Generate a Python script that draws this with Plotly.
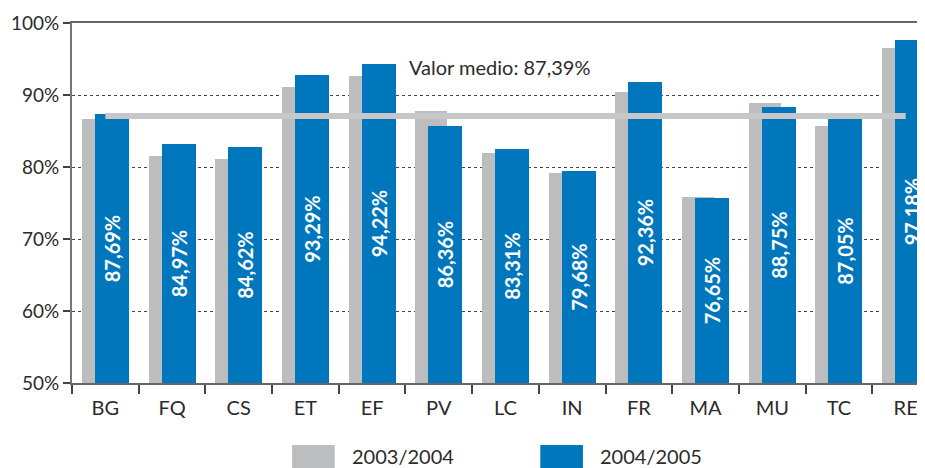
import plotly.graph_objects as go

categories = ["BG", "FQ", "CS", "ET", "EF", "PV", "LC", "IN", "FR", "MA", "MU", "TC", "RE"]
values_2003_2004 = [86.7, 81.5, 81.1, 91.1, 92.65, 87.8, 82.0, 79.2, 90.4, 75.8, 88.9, 85.7, 96.55]
values_2004_2005 = [87.4, 83.2, 82.8, 92.75, 94.3, 85.7, 82.5, 79.4, 91.8, 75.7, 88.3, 86.7, 97.7]
labels_2004_2005 = ["87,69%", "84,97%", "84,62%", "93,29%", "94,22%", "86,36%", "83,31%",
                    "79,68%", "92,36%", "76,65%", "88,75%", "87,05%", "97,18%"]
series_names = ["2003/2004", "2004/2005"]
mean_level = 87.1
mean_label = "Valor medio: 87,39%"
axis_base = 50
y_tick_values = [50, 60, 70, 80, 90, 100]
y_tick_labels = ["50%", "60%", "70%", "80%", "90%", "100%"]

GRAY = "#bcbdbf"
BLUE = "#0077bd"
LINE_GRAY = "#c6c7c9"
TEXT = "#2b2b2b"
FONT = "Lato"

# page has an 8px body margin; compensate so the chart lands on the 925x468 window
W, H, PAD = 925, 468, 8

fig = go.Figure()
fig.add_trace(go.Bar(
    x=categories, y=[v - axis_base for v in values_2003_2004], base=axis_base,
    name=series_names[0],
    marker=dict(color=GRAY, line=dict(width=0)),
    offset=-0.353, width=0.48, showlegend=False,
))
fig.add_trace(go.Bar(
    x=categories, y=[v - axis_base for v in values_2004_2005], base=axis_base,
    name=series_names[1],
    marker=dict(color=BLUE, line=dict(width=0)),
    offset=-0.158, width=0.51, showlegend=False,
    text=labels_2004_2005, textposition="inside", insidetextanchor="middle",
    textangle=-90, constraintext="none",
    textfont=dict(family=FONT, size=20, color="white", weight="bold"),
))
fig.add_trace(go.Scatter(
    x=[categories[0], categories[-1]], y=[mean_level, mean_level],
    mode="lines", line=dict(color=LINE_GRAY, width=6), showlegend=False,
    hoverinfo="skip",
))

fig.add_annotation(
    x=5.92, y=93.9, xref="x", yref="y", text=mean_label, showarrow=False,
    font=dict(family=FONT, size=20, color=TEXT), xanchor="center", yanchor="middle",
)

# legend drawn as large swatches
legend_items = [(series_names[0], GRAY, 0.258), (series_names[1], BLUE, 0.549)]
for name, color, x0 in legend_items:
    fig.add_shape(type="rect", xref="paper", yref="paper",
                  x0=x0, x1=x0 + 0.050, y0=-0.236, y1=-0.172,
                  fillcolor=color, line=dict(width=0))
    fig.add_annotation(x=x0 + 0.068, y=-0.203, xref="paper", yref="paper",
                       text=name, showarrow=False, xanchor="left", yanchor="middle",
                       font=dict(family=FONT, size=20, color=TEXT))

fig.update_layout(
    width=W - PAD, height=H - PAD,
    margin=dict(l=72 - PAD, r=0, t=23 - PAD, b=85),
    paper_bgcolor="white", plot_bgcolor="white",
    barmode="overlay", bargap=0,
    font=dict(family=FONT, color=TEXT),
    showlegend=False,
)
fig.update_xaxes(
    type="category", range=[-0.5, 12.29],
    showline=True, linecolor="#666", linewidth=2, mirror=True,
    ticks="outside", tickson="boundaries", ticklen=9, tickwidth=1.5, tickcolor="#444",
    ticklabelstandoff=6,
    showgrid=False, tickfont=dict(family=FONT, size=20, color=TEXT),
)
fig.update_yaxes(
    range=[50, 100], tickvals=y_tick_values, ticktext=y_tick_labels,
    showline=True, linecolor="#777", linewidth=2, mirror=False,
    ticks="outside", ticklen=7, tickwidth=1.5, tickcolor="#444",
    showgrid=True, gridcolor="#444", gridwidth=1, griddash="3px,3px",
    zeroline=False, tickfont=dict(family=FONT, size=19, color=TEXT),
)

fig.write_html("out.html")
